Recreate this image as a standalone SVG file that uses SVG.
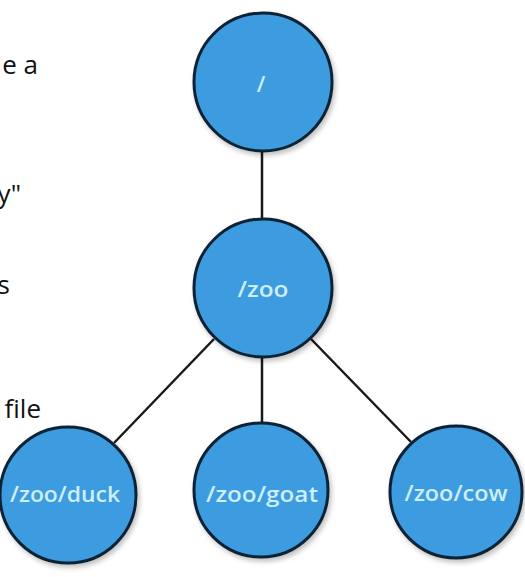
<svg xmlns="http://www.w3.org/2000/svg" width="525" height="577" viewBox="0 0 525 577">
  <defs>
    <filter id="shadow" x="-20%" y="-20%" width="150%" height="150%">
      <feDropShadow dx="2" dy="3" stdDeviation="2.5" flood-color="#000" flood-opacity="0.25"/>
    </filter>
  </defs>
  <style>
    .node circle { fill: #3c9ce0; stroke: #0e2336; stroke-width: 3; filter: url(#shadow); }
    .node text { font-family: "Open Sans", "Noto Sans", sans-serif; font-weight: 600; font-size: 22px; fill: #cdeefa; text-anchor: middle; }
    .edge { stroke: #1a1a1a; stroke-width: 2.5; fill: none; }
    .side { font-family: "Open Sans", "Noto Sans", sans-serif; font-size: 26px; fill: #111; text-anchor: end; }
  </style>
  <rect width="525" height="577" fill="#ffffff"/>

  <g id="side-text">
    <text class="side" x="38" y="74">e a</text>
    <text class="side" x="21" y="203">y"</text>
    <text class="side" x="10" y="294">s</text>
    <text class="side" x="41" y="418">file</text>
  </g>

  <g id="connectors">
    <line class="edge" x1="262" y1="150" x2="262" y2="220"/>
    <line class="edge" x1="214" y1="339" x2="114" y2="443"/>
    <line class="edge" x1="262" y1="356" x2="262" y2="424"/>
    <line class="edge" x1="311" y1="339" x2="411" y2="442"/>
  </g>

  <g id="node-root" class="node">
    <circle cx="263" cy="82" r="69"/>
    <text x="261" y="92">/</text>
  </g>
  <g id="node-zoo" class="node">
    <circle cx="263" cy="288" r="69"/>
    <text x="263" y="297" textLength="51" lengthAdjust="spacingAndGlyphs">/zoo</text>
  </g>
  <g id="node-duck" class="node">
    <circle cx="68" cy="495" r="68"/>
    <text x="65" y="502" textLength="110" lengthAdjust="spacingAndGlyphs">/zoo/duck</text>
  </g>
  <g id="node-goat" class="node">
    <circle cx="261" cy="490" r="67"/>
    <text x="262" y="502" textLength="112" lengthAdjust="spacingAndGlyphs">/zoo/goat</text>
  </g>
  <g id="node-cow" class="node">
    <circle cx="456" cy="492" r="66"/>
    <text x="456" y="501" textLength="103" lengthAdjust="spacingAndGlyphs">/zoo/cow</text>
  </g>
</svg>
